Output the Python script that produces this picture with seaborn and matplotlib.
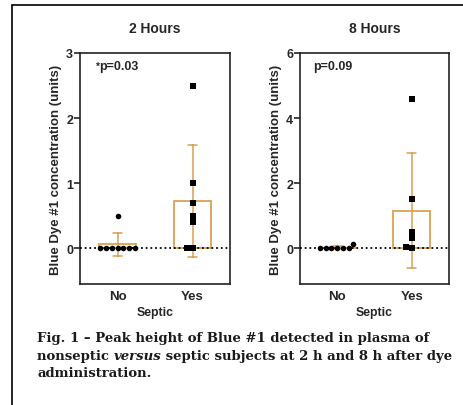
import numpy as np
import pandas as pd
import matplotlib
matplotlib.use("Agg")
import matplotlib.pyplot as plt
from matplotlib.lines import Line2D
import seaborn as sns

# values
groups = ["No", "Yes"]
no_2h = [0.5, 0, 0, 0, 0, 0, 0, 0]
yes_2h = [2.5, 1.0, 0.7, 0.5, 0.4, 0, 0]
no_8h = [0.12, 0, 0, 0, 0, 0, 0]
yes_8h = [4.6, 1.5, 0.5, 0.3, 0.05, 0]
titles = ["2 Hours", "8 Hours"]
pvals = ["p=0.03", "p=0.09"]
stars = ["*", ""]
yticks_2h = [0, 1, 2, 3]
yticks_8h = [0, 2, 4, 6]

ORANGE = "#DB9F55"

sns.set_style("ticks")
plt.rcParams["font.family"] = ["Liberation Sans", "DejaVu Sans"]
plt.rcParams["font.weight"] = "bold"


def make_frame(no_vals, yes_vals):
    return pd.DataFrame({
        "Septic": ["No"] * len(no_vals) + ["Yes"] * len(yes_vals),
        "value": list(no_vals) + list(yes_vals),
    })


fig = plt.figure(figsize=(4.64, 4.06), dpi=100)
ax1 = fig.add_axes([80 / 464, 1 - 285 / 406, 150 / 464, 231 / 406])
ax2 = fig.add_axes([300 / 464, 1 - 285 / 406, 149 / 464, 231 / 406])

panels = [
    (ax1, make_frame(no_2h, yes_2h), yticks_2h, (-0.55, 3)),
    (ax2, make_frame(no_8h, yes_8h), yticks_8h, (-1.1, 6)),
]

for i, (ax, df, yt, ylim) in enumerate(panels):
    sns.barplot(data=df, x="Septic", y="value", order=groups, ax=ax,
                errorbar="sd", fill=False, color=ORANGE, width=0.5,
                linewidth=1.3, capsize=0.12,
                err_kws={"color": ORANGE, "linewidth": 1.1})
    ax.axhline(0, color="black", linestyle=(0, (1.0, 1.6)), linewidth=1.3, zorder=5)
    sns.swarmplot(data=df[df["Septic"] == "No"], x="Septic", y="value",
                  order=groups, ax=ax, color="black", marker="o", size=4.0, zorder=6)
    sns.swarmplot(data=df[df["Septic"] == "Yes"], x="Septic", y="value",
                  order=groups, ax=ax, color="black", marker="s", size=4.0, zorder=6)

    ax.set_xlim(-0.5, 1.5)
    ax.set_ylim(*ylim)
    ax.set_yticks(yt)
    ax.tick_params(axis="y", direction="out", length=4, width=1.2, labelsize=9, pad=1)
    ax.tick_params(axis="x", length=0, labelsize=9.5, pad=4)
    for lab in ax.get_xticklabels() + ax.get_yticklabels():
        lab.set_fontweight("bold")
    for sp in ax.spines.values():
        sp.set_visible(True)
        sp.set_linewidth(1.2)
        sp.set_color("#222222")
    ax.set_xlabel("Septic", fontsize=8.8, fontweight="bold", labelpad=3)
    ax.set_ylabel("Blue Dye #1 concentration (units)", fontsize=9.5,
                  fontweight="bold", labelpad=3)
    ax.set_title(titles[i], fontsize=10, fontweight="bold", pad=15)
    x0 = 0.087
    if stars[i]:
        ax.text(0.105, 0.965, stars[i], transform=ax.transAxes, fontsize=7,
                fontweight="bold", va="top", ha="left")
        x0 = 0.13
    ax.text(x0, 0.97, pvals[i], transform=ax.transAxes, fontsize=9,
            fontweight="bold", va="top", ha="left")

# outer frame lines
fig.add_artist(Line2D([12 / 464, 12 / 464], [0, 1 - 6 / 406], color="black", linewidth=1.2))
fig.add_artist(Line2D([12 / 464, 1], [1 - 6 / 406, 1 - 6 / 406], color="black", linewidth=1.2))

# caption
cap_kw = dict(fontsize=9.5, fontweight="bold", family="DejaVu Serif", va="baseline",
              color="#1a1a1a")
fig.text(37 / 464, 1 - 342 / 406, "Fig. 1 \u2013 Peak height of Blue #1 detected in plasma of", **cap_kw)
fig.canvas.draw()
renderer = fig.canvas.get_renderer()
xpos = 37
ybase = 1 - 360 / 406
for piece, style in [("nonseptic ", "normal"), ("versus", "italic"),
                     (" septic subjects at 2 h and 8 h after dye", "normal")]:
    t = fig.text(xpos / 464, ybase, piece, style=style, **cap_kw)
    bb = t.get_window_extent(renderer)
    xpos += bb.width
fig.text(37 / 464, 1 - 377 / 406, "administration.", **cap_kw)

fig.savefig("out.png", dpi=100)
